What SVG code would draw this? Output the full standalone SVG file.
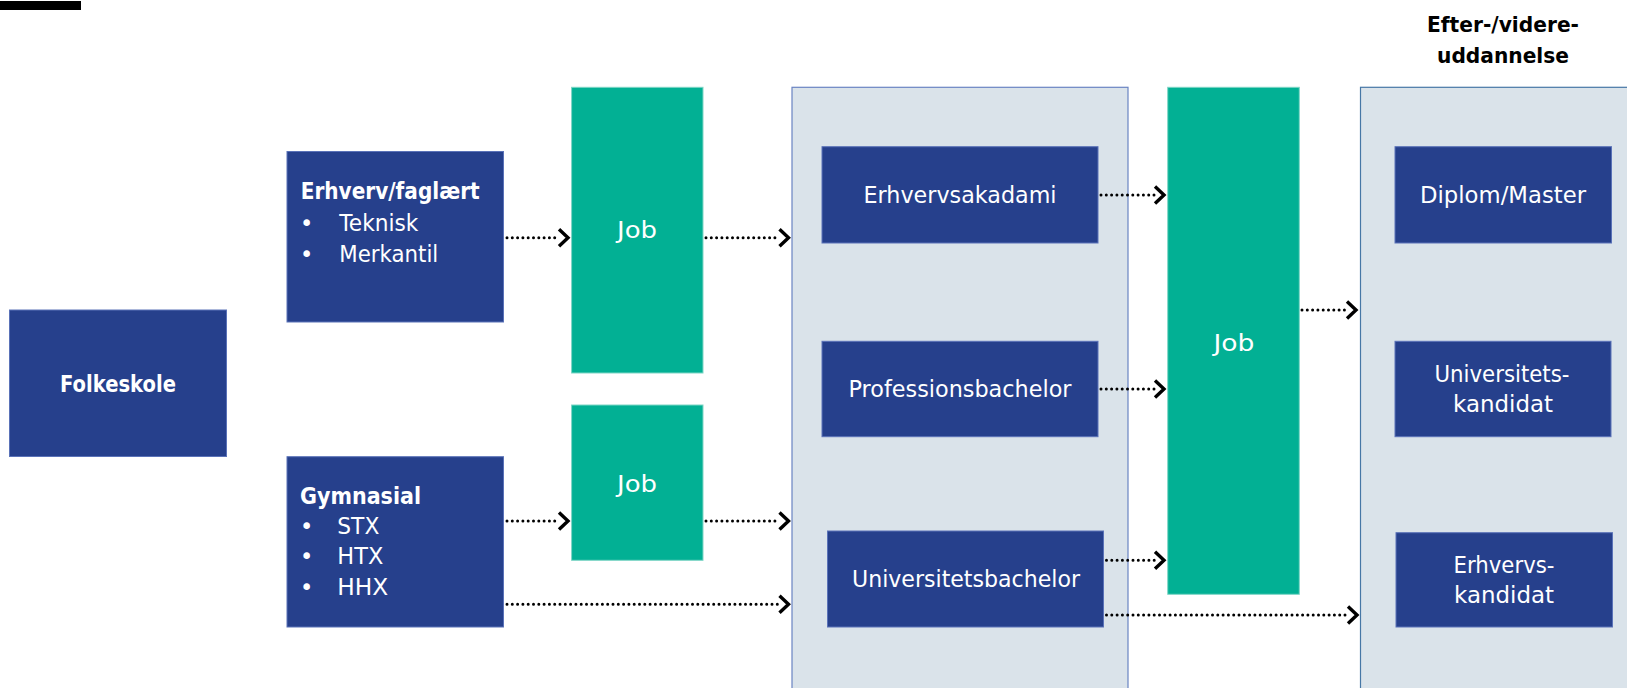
<svg xmlns="http://www.w3.org/2000/svg" width="1627" height="688" viewBox="0 0 1627 688">
<style>
.dark{fill:#26408c;stroke:#5a72b8;stroke-width:1}
.green{fill:#02b094;stroke:#7fd6c6;stroke-width:1}
.panel{fill:#dae3ea;stroke-width:1.2}
.t{font-family:"DejaVu Sans",sans-serif;fill:#ffffff;font-size:22.5px}
.tb{font-family:"DejaVu Sans",sans-serif;fill:#ffffff;font-size:22.5px;font-weight:bold}
.tm{text-anchor:middle}
.hd{font-family:"DejaVu Sans",sans-serif;fill:#000000;font-size:21px;font-weight:bold;text-anchor:middle}
.con{stroke:#000;stroke-width:3;stroke-dasharray:0 5.3;stroke-linecap:round;fill:none;marker-end:url(#chev)}
</style>
<defs>
<marker id="chev" viewBox="-2 -12 16 24" refX="0" refY="0" markerWidth="16" markerHeight="24" markerUnits="userSpaceOnUse" orient="auto">
<path d="M0,-8.5 L9,0 L0,8.5" fill="none" stroke="#000" stroke-width="3.4" stroke-linejoin="miter"/>
</marker>
</defs>
<rect x="0" y="1" width="81" height="9" fill="#000"/>
<g id="panel1"><rect class="panel" x="792" y="87.3" width="336" height="620" stroke="#6a84c2"/></g>
<g id="panel2"><rect class="panel" x="1360.5" y="87.3" width="300" height="620" stroke="#4677a6"/></g>
<g id="header"><text class="hd" x="1503" y="31.7" textLength="152" lengthAdjust="spacingAndGlyphs">Efter-/videre-</text><text class="hd" x="1503" y="63.3" textLength="132" lengthAdjust="spacingAndGlyphs">uddannelse</text></g>
<g id="folkeskole"><rect class="dark" x="9.5" y="310" width="217" height="146.5"/><text class="tb tm" x="118" y="392" textLength="116" lengthAdjust="spacingAndGlyphs">Folkeskole</text></g>
<g id="erhverv"><rect class="dark" x="287" y="151.5" width="216.5" height="170.5"/>
<text class="tb" x="300.7" y="199.3" textLength="179" lengthAdjust="spacingAndGlyphs">Erhverv/faglært</text>
<text class="t" x="300" y="230.7" font-size="21">•</text><text class="t" x="339.3" y="230.7" font-size="21.5" textLength="79" lengthAdjust="spacingAndGlyphs">Teknisk</text>
<text class="t" x="300" y="261.7" font-size="21">•</text><text class="t" x="339.3" y="261.7" font-size="21.5" textLength="99" lengthAdjust="spacingAndGlyphs">Merkantil</text></g>
<g id="gymnasial"><rect class="dark" x="287" y="456.7" width="216.5" height="170.3"/>
<text class="tb" x="300" y="504" textLength="121" lengthAdjust="spacingAndGlyphs">Gymnasial</text>
<text class="t" x="300" y="534" font-size="21">•</text><text class="t" x="337.3" y="534" font-size="21.5" textLength="42" lengthAdjust="spacingAndGlyphs">STX</text>
<text class="t" x="300" y="564.3" font-size="21">•</text><text class="t" x="337.3" y="564.3" font-size="21.5" textLength="46" lengthAdjust="spacingAndGlyphs">HTX</text>
<text class="t" x="300" y="595" font-size="21">•</text><text class="t" x="337.3" y="595" font-size="21.5" textLength="51" lengthAdjust="spacingAndGlyphs">HHX</text></g>
<g id="job1"><rect class="green" x="571.6" y="87.3" width="131.4" height="285.7"/><text class="t tm" x="637" y="238" font-size="24" textLength="40" lengthAdjust="spacingAndGlyphs">Job</text></g>
<g id="job3"><rect class="green" x="571.6" y="405" width="131.4" height="155.3"/><text class="t tm" x="637" y="491.7" font-size="24" textLength="40" lengthAdjust="spacingAndGlyphs">Job</text></g>
<g id="job2"><rect class="green" x="1167.7" y="87.3" width="131.6" height="507"/><text class="t tm" x="1234" y="350.5" font-size="24" textLength="41" lengthAdjust="spacingAndGlyphs">Job</text></g>
<g id="erhvervsakadami"><rect class="dark" x="822" y="146.7" width="276" height="96.3"/><text class="t tm" x="960" y="203.3" textLength="193" lengthAdjust="spacingAndGlyphs">Erhvervsakadami</text></g>
<g id="professionsbachelor"><rect class="dark" x="822" y="341.3" width="276" height="95.4"/><text class="t tm" x="960" y="396.7" textLength="223" lengthAdjust="spacingAndGlyphs">Professionsbachelor</text></g>
<g id="universitetsbachelor"><rect class="dark" x="827.5" y="531" width="276" height="96"/><text class="t tm" x="966" y="586.7" textLength="228" lengthAdjust="spacingAndGlyphs">Universitetsbachelor</text></g>
<g id="diplom"><rect class="dark" x="1395" y="146.7" width="216.5" height="96.3"/><text class="t tm" x="1503" y="203.3" textLength="166" lengthAdjust="spacingAndGlyphs">Diplom/Master</text></g>
<g id="universitetskandidat"><rect class="dark" x="1395" y="341.3" width="216" height="95.4"/><text class="t tm" x="1502" y="381.7" textLength="135" lengthAdjust="spacingAndGlyphs">Universitets-</text><text class="t tm" x="1503" y="412.3" textLength="100" lengthAdjust="spacingAndGlyphs">kandidat</text></g>
<g id="erhvervskandidat"><rect class="dark" x="1396" y="532.7" width="216.5" height="94.3"/><text class="t tm" x="1504" y="572.7" textLength="101" lengthAdjust="spacingAndGlyphs">Erhvervs-</text><text class="t tm" x="1504" y="602.7" textLength="100" lengthAdjust="spacingAndGlyphs">kandidat</text></g>
<g id="connectors">
<line class="con" x1="507" y1="237.7" x2="559" y2="237.7"/>
<line class="con" x1="706" y1="237.7" x2="779.5" y2="237.7"/>
<line class="con" x1="507" y1="521" x2="559" y2="521"/>
<line class="con" x1="706" y1="521" x2="779.5" y2="521"/>
<line class="con" x1="507" y1="604.3" x2="779.5" y2="604.3"/>
<line class="con" x1="1101" y1="195" x2="1155" y2="195"/>
<line class="con" x1="1101" y1="389" x2="1155" y2="389"/>
<line class="con" x1="1106.5" y1="560.3" x2="1155" y2="560.3"/>
<line class="con" x1="1302" y1="310" x2="1347" y2="310"/>
<line class="con" x1="1106.5" y1="615" x2="1348" y2="615"/>
</g>
</svg>
